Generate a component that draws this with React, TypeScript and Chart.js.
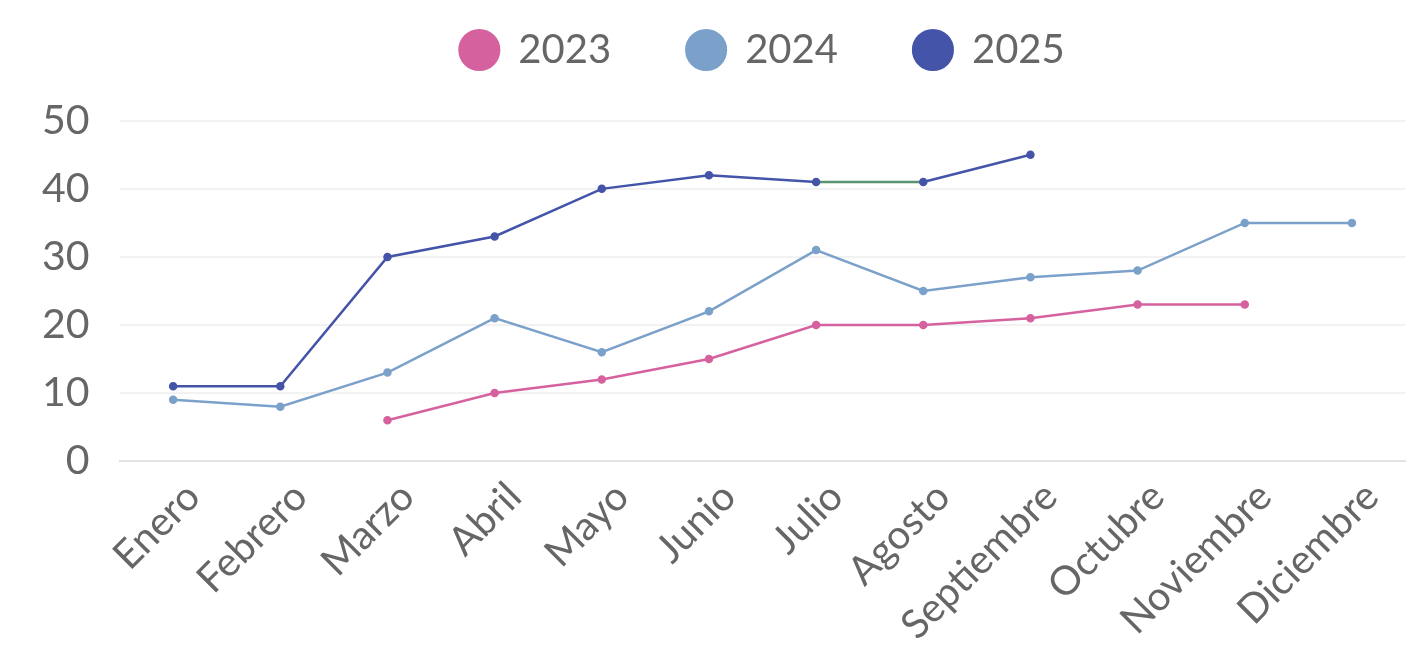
import React, { useEffect, useRef } from 'react';
import { Chart, registerables } from 'chart.js';

Chart.register(...registerables);

const months = ['Enero', 'Febrero', 'Marzo', 'Abril', 'Mayo', 'Junio', 'Julio', 'Agosto', 'Septiembre', 'Octubre', 'Noviembre', 'Diciembre'];
const values2023 = [null, null, 6, 10, 12, 15, 20, 20, 21, 23, 23, null];
const values2024 = [9, 8, 13, 21, 16, 22, 31, 25, 27, 28, 35, 35];
const values2025 = [11, 11, 30, 33, 40, 42, 41, 41, 45, null, null, null];
const seriesNames = ['2023', '2024', '2025'];
const seriesColors = ['#d6619f', '#7ba1ca', '#4454a8'];
const yMin = 0;
const yMax = 50;
const yStep = 10;

const FONT = 'Lato, "Open Sans", sans-serif';
const TEXT = '#666666';

export default function App() {
  const ref = useRef<HTMLCanvasElement | null>(null);

  useEffect(() => {
    if (!ref.current) return;
    const mk = (i: number, data: (number | null)[], extra: any = {}) => ({
      label: seriesNames[i],
      data,
      borderColor: seriesColors[i],
      backgroundColor: seriesColors[i],
      pointBackgroundColor: seriesColors[i],
      pointBorderColor: seriesColors[i],
      borderWidth: 2.5,
      pointRadius: 3,
      pointHoverRadius: 3,
      tension: 0,
      fill: false,
      ...extra,
    });
    const chart = new Chart(ref.current, {
      type: 'line',
      data: {
        labels: months,
        datasets: [
          mk(0, values2023),
          mk(1, values2024),
          mk(2, values2025, {
            segment: {
              borderColor: (ctx: any) => (ctx.p0DataIndex === 6 ? '#5a9470' : undefined),
            },
          }),
        ],
      },
      options: {
        animation: false,
        responsive: true,
        maintainAspectRatio: false,
        layout: { padding: { top: -46, left: 12, right: -7, bottom: -3 } },
        plugins: {
          tooltip: { enabled: false },
          legend: {
            position: 'top',
            fullSize: false,
            labels: {
              usePointStyle: true,
              pointStyle: 'circle',
              boxWidth: 38,
              boxHeight: 28,
              padding: 76,
              color: TEXT,
              font: { family: FONT, size: 40 },
            },
          },
          subtitle: {
            display: true,
            text: '',
            position: 'top',
            weight: 500,
            padding: 0,
            font: { size: 34 },
          },
        },
        scales: {
          x: {
            offset: true,
            grid: { display: false },
            border: { display: true, color: '#e3e3e3', width: 2 },
            ticks: {
              autoSkip: false,
              minRotation: 45,
              maxRotation: 45,
              padding: 4,
              labelOffset: 20,
              color: TEXT,
              font: { family: FONT, size: 40 },
            },
          },
          y: {
            min: yMin,
            max: yMax,
            grid: { color: '#f2f2f2', lineWidth: 2, drawTicks: false },
            border: { display: false },
            ticks: {
              stepSize: yStep,
              padding: 30,
              color: TEXT,
              font: { family: FONT, size: 41 },
            },
          },
        },
      },
    });
    return () => chart.destroy();
  }, []);

  return (
    <div style={{ position: 'absolute', left: 0, top: 0, width: 1411, height: 650, background: '#fff' }}>
      <canvas ref={ref} />
    </div>
  );
}
